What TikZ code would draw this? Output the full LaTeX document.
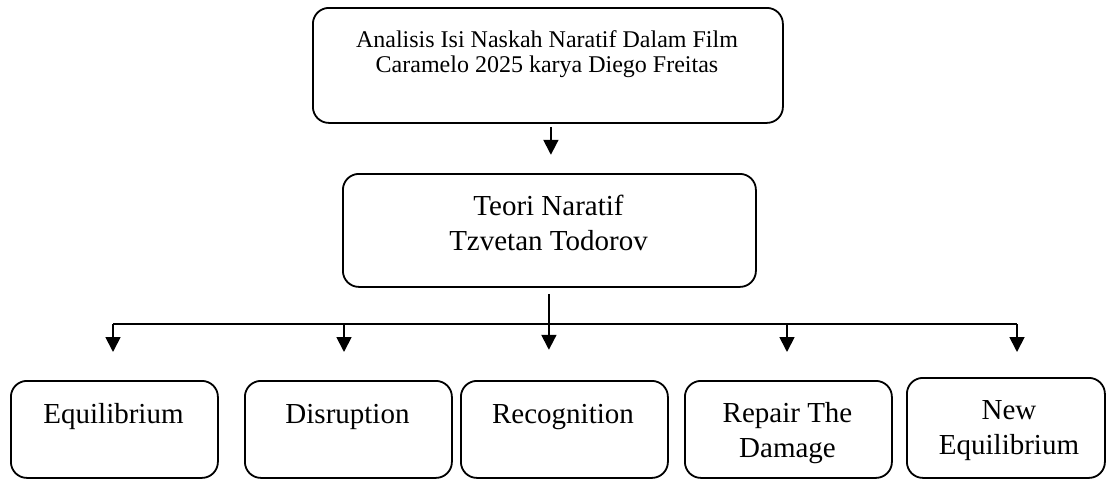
\documentclass[tikz,border=0pt]{standalone}
\usepackage{fontspec}
\setmainfont{Liberation Serif}
\usetikzlibrary{arrows.meta}
\begin{document}
\begin{tikzpicture}[x=1pt,y=-1pt,
  box/.style={draw=black, line width=1.8pt, rounded corners=16pt, inner sep=0pt, anchor=north west},
  conn/.style={draw=black, line width=1.8pt},
  arr/.style={conn, -{Triangle[width=15pt,length=15pt]}},
  txtsmall/.style={inner sep=0pt, anchor=base, align=center, font=\fontsize{24}{25}\selectfont},
  txtbig/.style={inner sep=0pt, anchor=base, align=center, font=\fontsize{29}{34.5}\selectfont}
]
\useasboundingbox (0,0) rectangle (1106,479);

% boxes
\node[box, minimum width=470pt, minimum height=115pt] (top) at (312,7) {};
\node[box, minimum width=413pt, minimum height=113pt] (mid) at (342,173) {};
\node[box, minimum width=207pt, minimum height=97pt] (b1) at (10,380) {};
\node[box, minimum width=207pt, minimum height=97pt] (b2) at (244,380) {};
\node[box, minimum width=207pt, minimum height=97pt] (b3) at (460,380) {};
\node[box, minimum width=207pt, minimum height=97pt] (b4) at (684,380) {};
\node[box, minimum width=198pt, minimum height=100pt] (b5) at (906,377) {};

% texts (base anchor = baseline of the last line)
\node[txtsmall] (toptxt) at (547,72) {Analisis Isi Naskah Naratif Dalam Film\\Caramelo 2025 karya Diego Freitas};
\node[txtbig] (midtxt) at (548.5,250) {Teori Naratif\\Tzvetan Todorov};
\node[txtbig] (t1) at (113.5,423) {Equilibrium};
\node[txtbig] (t2) at (347.5,423) {Disruption};
\node[txtbig] (t3) at (563,423) {Recognition};
\node[txtbig] (t4) at (787.5,457) {Repair The\\Damage};
\node[txtbig] (t5) at (1009,454) {New\\Equilibrium};

% connectors
\draw[arr] ([xshift=3pt,yshift=-3pt]top.south) -- ++(0,28);
\draw[arr] ([xshift=-0.5pt,yshift=-6pt]mid.south) -- ++(0,56);
\coordinate (j1) at (113,324);
\coordinate (j2) at (344,324);
\coordinate (j4) at (787,324);
\coordinate (j5) at (1017,324);
\draw[conn] (j1) -- (j5);
\draw[arr] (j1) -- ++(0,28);
\draw[arr] (j2) -- ++(0,28);
\draw[arr] (j4) -- ++(0,28);
\draw[arr] (j5) -- ++(0,28);
\end{tikzpicture}
\end{document}
